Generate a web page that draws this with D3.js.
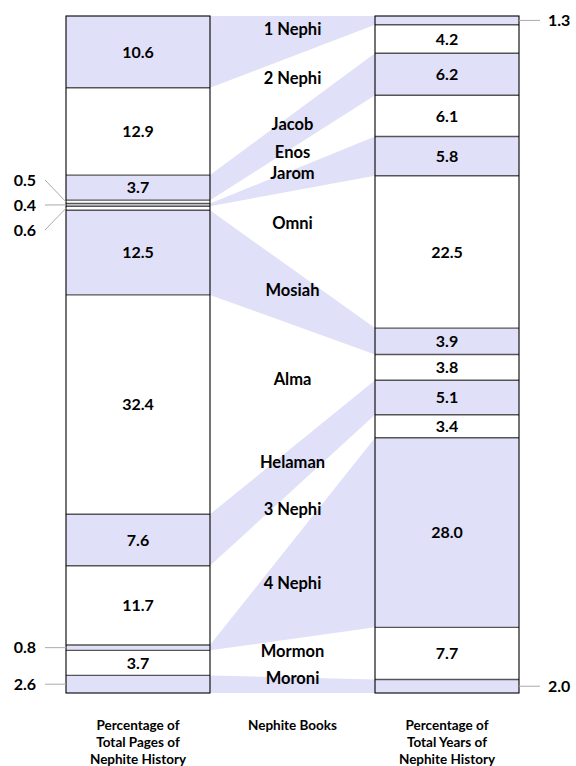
<!DOCTYPE html>
<html>
<head>
<meta charset="utf-8">
<script src="https://cdn.jsdelivr.net/npm/d3@7"></script>
<style>
  body { margin: 0; background: #fff; }
  svg text { font-family: Lato, "Open Sans", sans-serif; font-weight: bold; fill: #000; }
</style>
</head>
<body>
<svg id="chart" width="576" height="766"></svg>
<script>
// books of the nephite record, top to bottom
var books = ["1 Nephi", "2 Nephi", "Jacob", "Enos", "Jarom", "Omni", "Mosiah",
             "Alma", "Helaman", "3 Nephi", "4 Nephi", "Mormon", "Moroni"];
// % of total pages
var pagesPct = [10.6, 12.9, 3.7, 0.5, 0.4, 0.6, 12.5, 32.4, 7.6, 11.7, 0.8, 3.7, 2.6];
// % of total years
var yearsPct = [1.3, 4.2, 6.2, 6.1, 5.8, 22.5, 3.9, 3.8, 5.1, 3.4, 28.0, 7.7, 2.0];

var leftTitle = ["Percentage of", "Total Pages of", "Nephite History"];
var midTitle = ["Nephite Books"];
var rightTitle = ["Percentage of", "Total Years of", "Nephite History"];

var shade = "#e0e0f8";
var colW = 144;
var leftX = 66, rightX = 375;
var minInside = 3; // smaller values get a label outside the column

var svg = d3.select("#chart");

var y = d3.scaleLinear().domain([0, 100]).range([16, 693]);

function segments(vals) {
    var ends = d3.cumsum(vals);
    return vals.map((v, i) => ({ v: v, i: i, y0: ends[i] - v, y1: ends[i] }));
}
var left = segments(pagesPct);
var right = segments(yearsPct);

// bands between shaded segments (every other book)
svg.append("g")
    .selectAll("path")
    .data(books.map((b, i) => i).filter(i => i % 2 == 0))
    .join("path")
    .attr("fill", shade)
    .attr("d", i => {
        var l = left[i], r = right[i];
        return "M" + (leftX + colW) + "," + y(l.y0) +
            "L" + rightX + "," + y(r.y0) +
            "L" + rightX + "," + y(r.y1) +
            "L" + (leftX + colW) + "," + y(l.y1) + "Z";
    });

function drawColumn(segs, x0, side) {
    var g = svg.append("g");
    g.selectAll("rect")
        .data(segs)
        .join("rect")
        .attr("x", x0)
        .attr("width", colW)
        .attr("y", d => y(d.y0))
        .attr("height", d => y(d.y1) - y(d.y0))
        .attr("fill", d => d.i % 2 == 0 ? shade : "#fff");

    // dividers
    g.selectAll("line.div")
        .data(segs.slice(1))
        .join("line")
        .attr("class", "div")
        .attr("x1", x0).attr("x2", x0 + colW)
        .attr("y1", d => y(d.y0)).attr("y2", d => y(d.y0))
        .attr("stroke", "#555")
        .attr("stroke-width", 1.4);

    g.append("rect")
        .attr("x", x0).attr("y", y(0))
        .attr("width", colW).attr("height", y(100) - y(0))
        .attr("fill", "none")
        .attr("stroke", "#000")
        .attr("stroke-width", 1.1);

    // values inside
    g.selectAll("text.inside")
        .data(segs.filter(d => d.v >= minInside))
        .join("text")
        .attr("class", "inside")
        .attr("x", x0 + colW / 2)
        .attr("y", d => y((d.y0 + d.y1) / 2))
        .attr("dy", "0.36em")
        .attr("text-anchor", "middle")
        .attr("font-size", 16)
        .text(d => d.v.toFixed(1));

    // small values outside, fanned out when they sit next to each other
    var small = segs.filter(d => d.v < minInside);
    var groups = [];
    small.forEach(d => {
        var last = groups[groups.length - 1];
        if (last && last[last.length - 1].i == d.i - 1) last.push(d);
        else groups.push([d]);
    });
    var callouts = [];
    groups.forEach(grp => {
        var c = d3.mean(grp, d => y((d.y0 + d.y1) / 2));
        grp.forEach((d, k) => callouts.push({
            d: d,
            ty: c + (k - (grp.length - 1) / 2) * 25,
            sy: y((d.y0 + d.y1) / 2)
        }));
    });
    var edge = side == "left" ? x0 : x0 + colW;
    var lineEnd = side == "left" ? x0 - 21 : x0 + colW + 21;
    var textX = side == "left" ? x0 - 30 : x0 + colW + 29;

    g.selectAll("line.lead")
        .data(callouts)
        .join("line")
        .attr("class", "lead")
        .attr("x1", edge).attr("y1", c => c.sy)
        .attr("x2", lineEnd).attr("y2", c => c.ty)
        .attr("stroke", "#aaa")
        .attr("stroke-width", 1);

    g.selectAll("text.out")
        .data(callouts)
        .join("text")
        .attr("class", "out")
        .attr("x", textX)
        .attr("y", c => c.ty)
        .attr("dy", "0.36em")
        .attr("text-anchor", side == "left" ? "end" : "start")
        .attr("font-size", 16)
        .text(c => c.d.v.toFixed(1));
}

drawColumn(left, leftX, "left");
drawColumn(right, rightX, "right");

// book names in the middle
var midX = (leftX + colW + rightX) / 2;
svg.append("g")
    .selectAll("text")
    .data(books)
    .join("text")
    .attr("x", midX)
    .attr("y", (b, i) => (y((left[i].y0 + left[i].y1) / 2) + y((right[i].y0 + right[i].y1) / 2)) / 2 - 7)
    .attr("dy", "0.36em")
    .attr("text-anchor", "middle")
    .attr("font-size", 16.5)
    .text(b => b);

// titles under the columns
function title(lines, cx) {
    svg.append("text")
        .attr("x", cx)
        .attr("y", 730)
        .attr("text-anchor", "middle")
        .attr("font-size", 13.5)
        .selectAll("tspan")
        .data(lines)
        .join("tspan")
        .attr("x", cx)
        .attr("dy", (d, i) => i == 0 ? 0 : 16.8)
        .text(d => d);
}
title(leftTitle, leftX + colW / 2);
title(midTitle, midX);
title(rightTitle, rightX + colW / 2);
</script>
</body>
</html>
